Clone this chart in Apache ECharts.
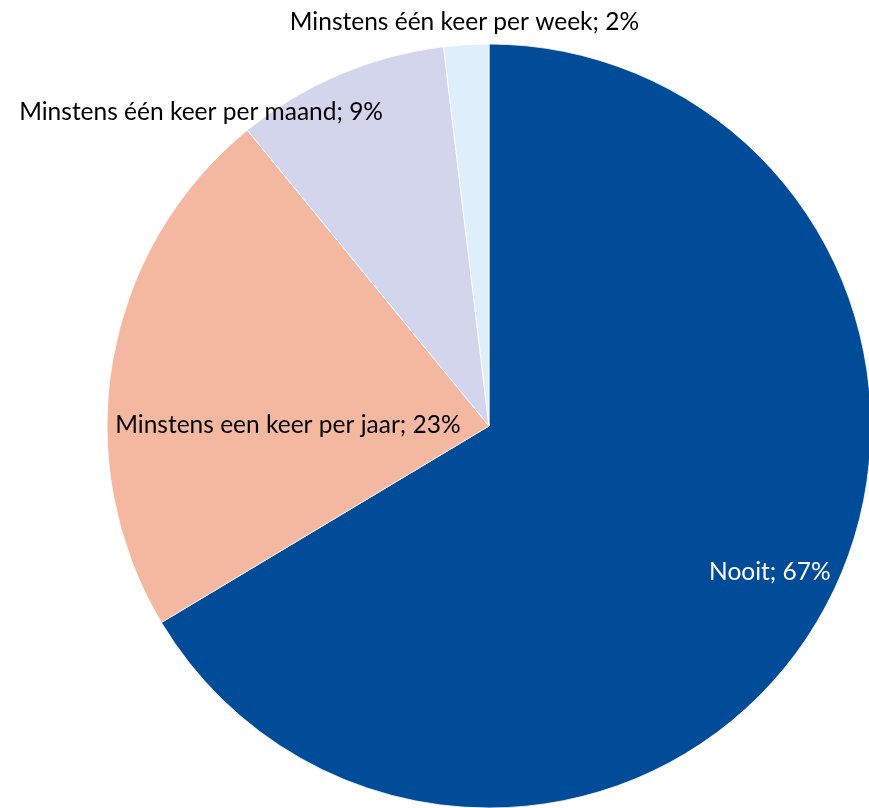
<!DOCTYPE html>
<html>
<head>
<meta charset="utf-8">
<script src="https://cdn.jsdelivr.net/npm/echarts@6/dist/echarts.min.js"></script>
<style>
html,body{margin:0;padding:0;background:#fff;}
#chart{width:869px;height:808px;}
</style>
</head>
<body>
<div id="chart"></div>
<script>
const categories = ['Nooit', 'Minstens een keer per jaar', 'Minstens één keer per maand', 'Minstens één keer per week'];
const values = [66.4, 22.7, 9.0, 1.9];
const pctLabels = [67, 23, 9, 2];
const colors = ['#004C99', '#F4B8A0', '#D2D5EC', '#DEEFFB'];
const labelColors = ['#ffffff', '#000000', '#000000', '#000000'];
const labelOffsets = [[112, 51], [-10, 32], [-212, -135], [-13, -210]];

const chart = echarts.init(document.getElementById('chart'), null, {renderer: 'canvas'});
const data = categories.map((c, i) => ({
  name: c,
  value: values[i],
  itemStyle: {color: colors[i]},
  label: {color: labelColors[i], offset: labelOffsets[i]}
}));
chart.setOption({
  animation: false,
  series: [{
    type: 'pie',
    center: [489, 426],
    radius: [0, 382],
    startAngle: 90,
    clockwise: true,
    avoidLabelOverlap: false,
    itemStyle: {borderColor: '#ffffff', borderWidth: 0.8},
    label: {
      show: true,
      position: 'inside',
      fontFamily: 'Lato',
      fontSize: 24.5,
      formatter: p => p.name + '; ' + pctLabels[p.dataIndex] + '%'
    },
    labelLine: {show: false},
    emphasis: {disabled: true},
    data: data
  }]
});
</script>
</body>
</html>
